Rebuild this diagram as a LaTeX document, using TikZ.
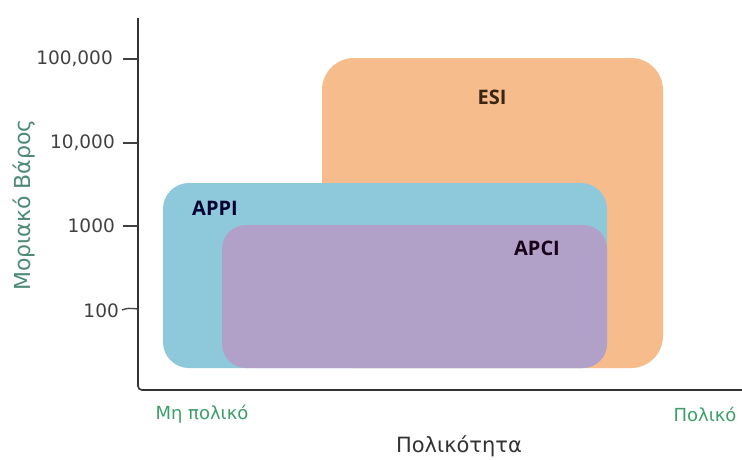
\documentclass[tikz,border=0pt]{standalone}
\usepackage{fontspec}
\setmainfont{DejaVu Sans}
\newfontfamily\regfont{Open Sans}
\begin{document}
\begin{tikzpicture}[x=1pt,y=-1pt,
  axis/.style={draw=black!80,line width=1.6pt},
  tickline/.style={draw=black!75,line width=1.3pt},
  ticklab/.style={anchor=east,inner sep=0pt,text=black!75,font=\fontsize{18.5}{20}\selectfont},
  regionlab/.style={inner sep=0pt,font=\regfont\bfseries\fontsize{20}{22}\selectfont},
  greenlab/.style={inner sep=0pt,text=polgreen,font=\fontsize{18}{20}\selectfont}]
\definecolor{esiorange}{HTML}{F7BC8C}
\definecolor{appiblue}{HTML}{8DC9DB}
\definecolor{apcipurple}{HTML}{B1A0C7}
\definecolor{polgreen}{HTML}{3E9E6A}
\definecolor{ylabgreen}{HTML}{4F8A78}
\useasboundingbox (0,0) rectangle (742,459);
\fill[white] (0,0) rectangle (742,459);
% regions
\fill[esiorange,rounded corners=32pt] (322,58) rectangle (663,368);
\fill[appiblue,rounded corners=26pt] (163,183) rectangle (607,368);
\fill[apcipurple,rounded corners=24pt] (222,225) rectangle (607,368);
\node[regionlab,text=black!70!brown] (esi) at (492,97) {ESI};
\node[regionlab,text=black!80!blue] (appi) at (215,208) {APPI};
\node[regionlab,text=black!80!violet] (apci) at (537,248) {APCI};
% axes
\draw[axis,rounded corners=4pt] (138,18) -- (138,390) -- (742,390);
% ticks
\draw[tickline] (123,59) -- (138,59);
\draw[tickline] (123,143) -- (138,143);
\draw[tickline] (123,226) -- (138,226);
\draw[tickline] (122,310) .. controls (128,308) .. (138,309);
\node[ticklab] (t5) at (113,59) {100,000};
\node[ticklab] (t4) at (115,143) {10,000};
\node[ticklab] (t3) at (115,226) {1000};
\node[ticklab] (t2) at (119,311) {100};
% axis labels
\node[inner sep=0pt,rotate=90,text=ylabgreen,font=\fontsize{22}{24}\selectfont] (ylab) at (24,205) {Μοριακό Βάρος};
\node[greenlab] (np) at (202,414) {Μη πολικό};
\node[greenlab] (p) at (705,414) {Πολικό};
\node[inner sep=0pt,text=black!80,font=\fontsize{21}{23}\selectfont] (xlab) at (459,446) {Πολικότητα};
\end{tikzpicture}
\end{document}
